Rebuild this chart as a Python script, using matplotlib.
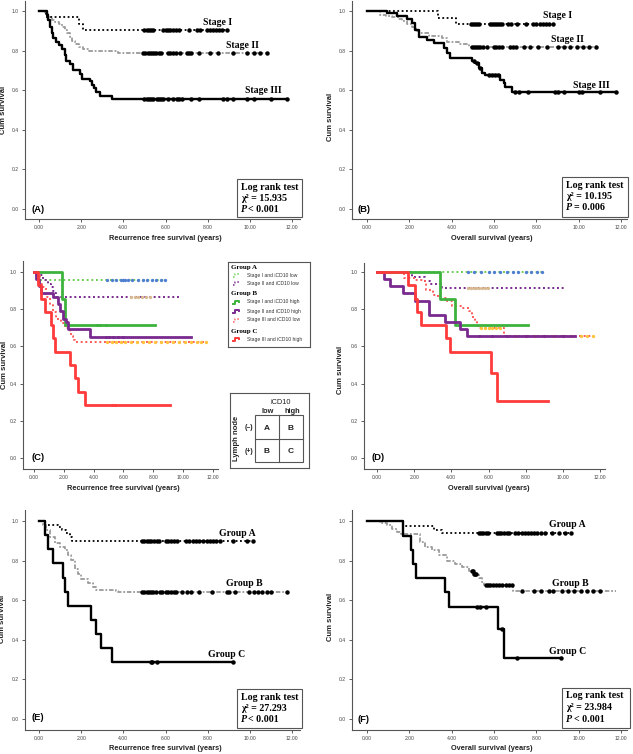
import numpy as np
import matplotlib.pyplot as plt
from matplotlib.patches import Rectangle

# ---- panel A: recurrence free survival by stage ----
a1_t = [0.35, 1.9, 2.1]
a1_s = [0.97, 0.935, 0.904]
a1_end = 8.9
a1_c = [5.0, 5.1, 5.2, 5.3, 5.4, 5.9, 6.0, 6.1, 6.2, 6.35, 6.5, 6.65, 7.1, 7.5, 7.65,
        7.95, 8.1, 8.25, 8.4, 8.55, 8.7, 8.9]
a2_t = [0.3, 0.45, 0.6, 0.75, 0.95, 1.1, 1.25, 1.35, 1.45, 1.55, 1.7, 1.9, 2.1, 2.35, 3.75]
a2_s = [0.985, 0.97, 0.955, 0.945, 0.935, 0.92, 0.905, 0.89, 0.87, 0.85, 0.835, 0.82, 0.81, 0.80, 0.79]
a2_end = 10.8
a2_c = [4.95, 5.05, 5.15, 5.25, 5.35, 5.45, 5.55, 5.7, 5.8, 6.1, 6.2, 6.35, 6.5, 6.7,
        7.0, 7.1, 7.2, 7.6, 8.1, 8.5, 9.2, 9.85, 10.2, 10.5, 10.8]
a3_t = [0.38, 0.45, 0.52, 0.6, 0.68, 0.8, 0.95, 1.1, 1.22, 1.3, 1.45, 1.6, 1.95, 2.05,
        2.4, 2.5, 2.6, 2.72, 2.9, 3.45]
a3_s = [0.98, 0.955, 0.92, 0.888, 0.862, 0.845, 0.83, 0.807, 0.78, 0.745, 0.73, 0.70,
        0.68, 0.657, 0.644, 0.627, 0.61, 0.59, 0.573, 0.555]
a3_end = 11.75
a3_c = [5.0, 5.1, 5.2, 5.3, 5.4, 5.6, 5.7, 5.8, 5.9, 6.1, 6.35, 6.55, 6.65, 6.8, 7.2,
        7.6, 8.75, 8.9, 9.2, 9.85, 10.2, 11.0, 11.75]

# ---- panel B: overall survival by stage ----
b1_t = [3.35, 4.2]
b1_s = [0.967, 0.934]
b1_end = 8.8
b1_c = [4.9, 5.0, 5.1, 5.2, 5.3, 5.8, 5.9, 6.0, 6.1, 6.2, 6.3, 6.4, 6.65, 6.8, 7.1,
        7.5, 7.85, 8.0, 8.15, 8.3, 8.45, 8.6, 8.8]
b2_t = [0.63, 0.9, 1.18, 1.45, 1.65, 1.9, 2.12, 2.3, 2.44, 2.91, 3.54, 3.77, 4.33, 4.8]
b2_s = [0.98, 0.975, 0.968, 0.958, 0.95, 0.935, 0.92, 0.9, 0.887, 0.874, 0.862, 0.845, 0.835, 0.82]
b2_end = 10.8
b2_c = [4.95, 5.05, 5.15, 5.25, 5.35, 5.5, 5.65, 6.0, 6.1, 6.25, 6.4, 6.75, 6.9, 7.05,
        7.4, 7.7, 8.1, 8.5, 9.0, 9.3, 9.6, 9.9, 10.2, 10.5, 10.8]
b3_t = [0.94, 1.42, 1.89, 2.12, 2.28, 2.44, 2.83, 3.15, 3.62, 3.77, 3.93, 4.95, 5.11,
        5.27, 5.43, 5.58, 6.29, 6.45, 6.53, 6.87]
b3_s = [0.988, 0.975, 0.96, 0.938, 0.904, 0.871, 0.854, 0.837, 0.812, 0.787, 0.761,
        0.748, 0.736, 0.711, 0.689, 0.677, 0.652, 0.635, 0.618, 0.59]
b3_end = 11.75
b3_c = [5.05, 5.2, 5.35, 5.75, 5.9, 6.05, 6.2, 7.0, 7.2, 7.6, 8.9, 9.0, 9.3, 10.0,
        10.15, 11.0, 11.75]

# ---- panel C: recurrence free survival by subgroup ----
c1_t = [0.38]                      # stage I, iCD10 low
c1_s = [0.959]
c1_end = 8.76
c1_c = [4.9, 5.2, 5.5, 5.8, 6.0, 6.1, 6.3, 6.6, 7.0, 7.3, 7.6, 7.9, 8.2, 8.5, 8.76]
c2_t = [0.27, 0.6, 0.94, 1.16, 1.27, 1.39, 1.5]   # stage II, iCD10 low
c2_s = [0.982, 0.959, 0.9375, 0.92, 0.90, 0.887, 0.866]
c2_end = 9.88
c2_c = [6.5, 6.75, 7.0, 7.25, 7.5, 7.75]
c3_t = [1.88, 2.1]                 # stage I, iCD10 high
c3_s = [0.857, 0.714]
c3_end = 8.09
c3_c = [4.2, 4.45, 4.85]
c4_t = [0.16, 0.35, 0.49, 1.27, 1.61, 1.72, 1.94, 2.17, 2.28, 3.73]   # stage II, iCD10 high
c4_s = [0.962, 0.923, 0.885, 0.865, 0.827, 0.788, 0.75, 0.731, 0.693, 0.653]
c4_end = 10.55
c4_c = [4.85, 5.05, 5.3, 5.6, 6.0]
c5_t = [0.16, 0.38, 0.6, 0.83, 1.05, 1.27, 1.5, 1.83, 2.06, 2.39, 2.5, 2.61, 2.73]  # stage III, low
c5_s = [0.982, 0.9375, 0.92, 0.866, 0.82, 0.786, 0.75, 0.727, 0.70, 0.68, 0.655, 0.637, 0.621]
c5_end = 11.5
c5_c = [4.9, 5.2, 5.5, 5.8, 6.1, 6.5, 6.9, 7.3, 7.7, 8.1, 8.5, 8.9, 9.3, 9.7, 10.1,
        10.5, 10.9, 11.2, 11.5]
c6_t = [0.27, 0.49, 0.72, 1.16, 1.27, 1.39, 2.44, 2.73, 2.95, 3.4]  # stage III, high
c6_s = [0.929, 0.857, 0.786, 0.714, 0.643, 0.571, 0.5, 0.429, 0.357, 0.286]
c6_end = 9.1
c6_c = [5.2, 5.4]

# ---- panel D: overall survival by subgroup ----
d1_t = []
d1_s = []
d1_end = 8.87
d1_c = [4.9, 5.2, 5.6, 6.0, 6.3, 6.6, 7.0, 7.3, 7.6, 8.0, 8.3, 8.6, 8.87]
d2_t = [1.88, 2.6, 2.87, 3.49]
d2_s = [0.973, 0.95, 0.935, 0.914]
d2_end = 10.1
d2_c = [4.9, 5.05, 5.2, 5.35, 5.5, 5.65, 5.8, 5.95]
d3_t = [3.4, 4.2]
d3_s = [0.857, 0.714]
d3_end = 8.15
d3_c = []
d4_t = [0.36, 0.72, 1.38, 2.02, 2.78, 3.64, 4.48, 4.84]
d4_s = [0.962, 0.923, 0.885, 0.846, 0.769, 0.731, 0.692, 0.654]
d4_end = 10.66
d4_c = [5.5, 6.2, 7.0, 8.0, 9.0, 10.0]
d5_t = [1.43, 2.06, 2.6, 2.65, 3.04, 3.3, 3.76, 4.03, 4.57, 4.93, 5.1, 5.25, 5.37, 5.46, 6.86]
d5_s = [0.968, 0.955, 0.94, 0.905, 0.878, 0.86, 0.842, 0.815, 0.806, 0.79, 0.76, 0.735,
        0.717, 0.70, 0.658]
d5_end = 11.64
d5_c = [5.6, 5.8, 6.0, 6.2, 6.4, 6.6, 7.5, 8.0, 8.5, 9.0, 9.5, 10.0, 10.5, 11.0, 11.3, 11.64]
d6_t = [1.67, 2.06, 2.15, 2.36, 3.71, 3.94, 6.14, 6.45]
d6_s = [0.929, 0.857, 0.786, 0.714, 0.643, 0.571, 0.457, 0.305]
d6_end = 9.22
d6_c = []

# ---- panel E: recurrence free survival by group ----
e1_t = [0.3, 0.9, 1.1, 1.3, 1.45, 1.55]
e1_s = [0.98, 0.97, 0.955, 0.94, 0.918, 0.897]
e1_end = 10.16
e1_c = [4.9, 5.0, 5.1, 5.2, 5.3, 5.45, 5.6, 5.7, 6.0, 6.1, 6.25, 6.4, 6.55, 6.95, 7.1,
        7.3, 7.45, 7.6, 7.8, 7.95, 8.1, 8.25, 8.4, 8.6, 9.2, 9.85, 10.16]
e2_t = [0.19, 0.35, 0.51, 0.74, 0.98, 1.22, 1.38, 1.54, 1.69, 1.85, 2.01, 2.33, 2.56, 2.72, 3.67, 3.75]
e2_s = [0.98, 0.955, 0.92, 0.89, 0.87, 0.854, 0.83, 0.803, 0.76, 0.73, 0.707, 0.686,
        0.666, 0.652, 0.644, 0.639]
e2_end = 11.75
e2_c = [4.9, 5.0, 5.1, 5.2, 5.3, 5.4, 5.55, 5.75, 5.85, 6.0, 6.1, 6.25, 6.4, 6.5, 6.8,
        7.0, 7.2, 7.6, 8.2, 8.9, 9.0, 9.3, 9.95, 10.2, 10.4, 10.6, 10.8, 11.0, 11.75]
e3_t = [0.27, 0.43, 0.66, 1.14, 1.25, 1.38, 2.49, 2.72, 2.96, 3.44]
e3_s = [0.929, 0.857, 0.786, 0.714, 0.643, 0.571, 0.5, 0.429, 0.357, 0.286]
e3_end = 9.2
e3_c = [5.3, 5.35, 5.6, 9.2]

# ---- panel F: overall survival by group ----
f1_t = [1.7, 3.15, 3.54]
f1_s = [0.973, 0.956, 0.94]
f1_end = 9.65
f1_c = [5.3, 5.4, 5.5, 5.6, 5.7, 6.15, 6.25, 6.35, 6.45, 6.6, 6.7, 7.0, 7.15, 7.3, 7.45,
        7.6, 7.75, 7.9, 8.05, 8.2, 8.4, 8.75, 9.05, 9.35, 9.65]
f2_t = [0.63, 0.94, 1.2, 1.4, 1.6, 2.52, 2.75, 3.07, 3.38, 3.77, 4.17, 4.48, 4.8, 5.03,
        5.27, 5.43, 5.51, 6.92]
f2_s = [0.99, 0.978, 0.96, 0.945, 0.936, 0.894, 0.869, 0.852, 0.827, 0.80, 0.785, 0.768,
        0.75, 0.734, 0.71, 0.692, 0.676, 0.647]
f2_end = 11.75
f2_c = [4.95, 5.0, 5.05, 5.1, 5.15, 5.6, 5.7, 5.8, 5.95, 6.1, 6.25, 6.4, 6.55, 6.7, 6.85,
        7.3, 7.9, 8.2, 8.6, 8.8, 9.2, 9.5, 9.8, 10.1, 10.4, 10.7, 11.0]
f3_t = [1.68, 2.09, 2.15, 2.31, 3.7, 3.88, 6.21, 6.45]
f3_s = [0.924, 0.852, 0.785, 0.714, 0.642, 0.566, 0.457, 0.306]
f3_end = 9.17
f3_c = [5.2, 5.35, 5.63, 6.4, 7.08, 9.17]

xticks = [0, 2, 4, 6, 8, 10, 12]
xtick_labels = ["0.00", "2.00", "4.00", "6.00", "8.00", "10.00", "12.00"]
yticks = [0.0, 0.2, 0.4, 0.6, 0.8, 1.0]

W, H = 633, 754
fig = plt.figure(figsize=(W / 100, H / 100), dpi=100)
SANS = "Liberation Sans"
SERIF = "Liberation Serif"


def fx(x):
    return x / W


def fy(y):
    return 1 - y / H


def make_ax(left, right, top, bottom, x0, x12, y1, y0):
    # pixel box of the spines plus pixel positions of x=0, x=12, y=1, y=0
    ax = fig.add_axes([fx(left), fy(bottom), (right - left) / W, (bottom - top) / H])
    ppx = (x12 - x0) / 12.0
    ppy = (y0 - y1)
    ax.set_xlim((left - x0) / ppx, (right - x0) / ppx)
    ax.set_ylim((y0 - bottom) / ppy, (y0 - top) / ppy)
    for sp in ["top", "right"]:
        ax.spines[sp].set_visible(False)
    for sp in ["left", "bottom"]:
        ax.spines[sp].set_color("#555555")
        ax.spines[sp].set_linewidth(0.8)
    ax.set_xticks(xticks)
    ax.set_xticklabels(xtick_labels)
    ax.set_yticks(yticks)
    ax.set_yticklabels(["%.1f" % v for v in yticks])
    ax.tick_params(labelsize=3.6, length=2.5, width=0.6, pad=2, colors="#444444")
    for lab in ax.get_xticklabels() + ax.get_yticklabels():
        lab.set_family(SANS)
    ax.patch.set_alpha(0)
    return ax


def km(ax, t, s, end, cens, color, ls, lw, ccolor="black", ms=3.2, z=2):
    t = np.asarray(t, float)
    s = np.asarray(s, float)
    x = np.r_[0.0, t, end]
    y = np.r_[1.0, s, s[-1] if len(s) else 1.0]
    ax.step(x, y, where="post", color=color, ls=ls, lw=lw, zorder=z)
    if len(cens):
        idx = np.searchsorted(t, cens, side="right")
        lev = np.r_[1.0, s][idx]
        ax.plot(cens, lev, ls="none", marker="o", ms=ms, color=ccolor, mew=0, zorder=z + 1)


def ylab(x, y):
    fig.text(fx(x), fy(y), "Cum survival", rotation=90, ha="center", va="center",
             fontsize=5.5, fontweight="bold", family=SANS, color="#222222")


def xlab(x, y, txt):
    fig.text(fx(x), fy(y), txt, ha="center", va="center", fontsize=5.3,
             fontweight="bold", family=SANS, color="#222222")


def panel_tag(x, y, txt):
    fig.text(fx(x), fy(y), txt, ha="left", va="center", fontsize=6.8,
             fontweight="bold", family=SANS)


def logrank(x0, x1, y0, y1, chi, ptxt):
    fig.add_artist(Rectangle((fx(x0), fy(y1)), (x1 - x0) / W, (y1 - y0) / H,
                             transform=fig.transFigure, fill=False, ec="#555555", lw=0.8))
    kw = dict(fontsize=7.2, fontweight="bold", family=SERIF, va="center", ha="left")
    fig.text(fx(x0 + 4), fy(y0 + 8), "Log rank test", **kw)
    fig.text(fx(x0 + 4), fy(y0 + 19.5), "\u03c7\u00b2 = " + chi, **kw)
    fig.text(fx(x0 + 4), fy(y0 + 31), "P", style="italic", **kw)
    fig.text(fx(x0 + 11.5), fy(y0 + 31), ptxt, **kw)


def tag(ax, x, y, txt):
    ax.text(x, y, txt, fontsize=7, fontweight="bold", family=SERIF, ha="left", va="center")


DOT = (0, (1, 1.4))
DASHDOT = (0, (2.5, 1, 1, 1))
GRAY = "#9a9a9a"

# ---------------- A ----------------
ax = make_ax(25, 300, 1, 219, 39, 292, 11, 209)
km(ax, a2_t, a2_s, a2_end, a2_c, GRAY, DASHDOT, 1.3)
km(ax, a1_t, a1_s, a1_end, a1_c, "black", DOT, 1.3)
km(ax, a3_t, a3_s, a3_end, a3_c, "black", "-", 1.7)
tag(ax, 7.8, 0.94, "Stage I")
tag(ax, 8.85, 0.825, "Stage II")
tag(ax, 9.75, 0.597, "Stage III")
ylab(4, 110)
xlab(165, 239, "Recurrence free survival (years)")
panel_tag(32, 209, "(A)")
logrank(237, 302, 179, 217, "15.935", "< 0.001")

# ---------------- B ----------------
ax = make_ax(352, 627, 1, 219, 367, 621, 11, 209)
km(ax, b2_t, b2_s, b2_end, b2_c, GRAY, DASHDOT, 1.3)
km(ax, b1_t, b1_s, b1_end, b1_c, "black", DOT, 1.3)
km(ax, b3_t, b3_s, b3_end, b3_c, "black", "-", 1.7)
tag(ax, 8.3, 0.975, "Stage I")
tag(ax, 8.7, 0.854, "Stage II")
tag(ax, 9.75, 0.624, "Stage III")
ylab(330, 117)
xlab(492, 239, "Overall survival (years)")
panel_tag(358, 209, "(B)")
logrank(562, 628, 177, 217, "10.195", "= 0.006")

# colours for subgroup panels
GREEN = "#3db23d"
LGREEN = "#6fd05a"
PURPLE = "#7a2a8e"
RED = "#ff3b3b"
LRED = "#ff5a5a"
BLUE = "#4f7fd0"
TAN = "#d8b890"
ORANGE = "#ffc23a"


def subgroups(ax, s1, s2, s3, s4, s5, s6):
    km(ax, *s1, LGREEN, DOT, 1.4, BLUE, 2.4, 2)
    km(ax, *s2, PURPLE, DOT, 1.4, TAN, 2.4, 2)
    km(ax, *s5, LRED, DOT, 1.4, ORANGE, 2.4, 3)
    km(ax, *s3, GREEN, "-", 2.0, GREEN, 2.2, 4)
    km(ax, *s4, PURPLE, "-", 2.0, PURPLE, 2.2, 4)
    km(ax, *s6, RED, "-", 2.0, RED, 2.2, 5)


# ---------------- C ----------------
ax = make_ax(23, 218, 261, 469, 34, 213, 272, 458)
subgroups(ax, (c1_t, c1_s, c1_end, c1_c), (c2_t, c2_s, c2_end, c2_c),
          (c3_t, c3_s, c3_end, c3_c), (c4_t, c4_s, c4_end, c4_c),
          (c5_t, c5_s, c5_end, c5_c), (c6_t, c6_s, c6_end, c6_c))
ylab(5, 365)
xlab(123, 489, "Recurrence free survival (years)")
panel_tag(31, 457, "(C)")

# legend box for C, drawn in pixel units
lg = fig.add_axes([fx(228), fy(347), 82 / W, 85 / H])
lg.set_xlim(228, 310)
lg.set_ylim(347, 262)
lg.set_xticks([])
lg.set_yticks([])
for sp in lg.spines.values():
    sp.set_color("#555555")
    sp.set_linewidth(0.8)
legend_rows = [
    ("Group A", None, None, 267),
    ("Stage I and iCD10 low", LGREEN, DOT, 275),
    ("Stage II and iCD10 low", PURPLE, DOT, 283),
    ("Group B", None, None, 293),
    ("Stage I and iCD10 high", GREEN, "-", 302),
    ("Stage II and iCD10 high", PURPLE, "-", 311),
    ("Stage III and iCD10 low", LRED, DOT, 320),
    ("Group C", None, None, 331),
    ("Stage III and iCD10 high", RED, "-", 339),
]
for txt, col, ls, yy in legend_rows:
    if col is None:
        lg.text(231, yy, txt, fontsize=5, fontweight="bold", family=SERIF, va="center")
    else:
        lg.plot([233, 235, 235, 239, 239], [yy + 1.5, yy + 1.5, yy - 1.5, yy - 1.5, yy],
                color=col, ls=ls, lw=1.4 if ls == "-" else 1.1)
        lg.text(247, yy, txt, fontsize=3.6, family=SANS, va="center", color="#333333")

# 2x2 grouping table
tb = fig.add_axes([fx(230), fy(468), 79 / W, 75 / H])
tb.set_xlim(230, 309)
tb.set_ylim(468, 393)
tb.set_xticks([])
tb.set_yticks([])
for sp in tb.spines.values():
    sp.set_color("#555555")
    sp.set_linewidth(0.8)
tb.add_patch(Rectangle((255, 415), 48, 47, fill=False, ec="#555555", lw=0.8))
tb.plot([279, 279], [415, 462], color="#555555", lw=0.8)
tb.plot([255, 303], [439, 439], color="#555555", lw=0.8)
tkw = dict(family=SANS, ha="center", va="center", color="#222222")
tb.text(281, 402, "iCD10", fontsize=5.3, **tkw)
tb.text(268, 411, "low", fontsize=5.3, fontweight="bold", **tkw)
tb.text(292, 411, "high", fontsize=5.3, fontweight="bold", **tkw)
tb.text(267, 428, "A", fontsize=6, fontweight="bold", **tkw)
tb.text(291, 428, "B", fontsize=6, fontweight="bold", **tkw)
tb.text(267, 451, "B", fontsize=6, fontweight="bold", **tkw)
tb.text(291, 451, "C", fontsize=6, fontweight="bold", **tkw)
tb.text(249, 427, "(\u2013)", fontsize=5, fontweight="bold", **tkw)
tb.text(249, 451, "(+)", fontsize=5, fontweight="bold", **tkw)
tb.text(237, 438, "Lymph node", fontsize=5.5, fontweight="bold", rotation=90, **tkw)

# ---------------- D ----------------
ax = make_ax(364, 605, 263, 469, 377, 600, 272, 458)
subgroups(ax, (d1_t, d1_s, d1_end, d1_c), (d2_t, d2_s, d2_end, d2_c),
          (d3_t, d3_s, d3_end, d3_c), (d4_t, d4_s, d4_end, d4_c),
          (d5_t, d5_s, d5_end, d5_c), (d6_t, d6_s, d6_end, d6_c))
ylab(340, 370)
xlab(489, 489, "Overall survival (years)")
panel_tag(371, 457, "(D)")

# ---------------- E ----------------
ax = make_ax(25, 300, 510, 730, 39, 292, 521, 719)
km(ax, e2_t, e2_s, e2_end, e2_c, GRAY, DASHDOT, 1.3)
km(ax, e1_t, e1_s, e1_end, e1_c, "black", DOT, 1.3)
km(ax, e3_t, e3_s, e3_end, e3_c, "black", "-", 1.7)
tag(ax, 8.55, 0.938, "Group A")
tag(ax, 8.85, 0.682, "Group B")
tag(ax, 8.0, 0.328, "Group C")
ylab(3, 619)
xlab(165, 748, "Recurrence free survival (years)")
panel_tag(32, 718, "(E)")
logrank(237, 302, 689, 728, "27.293", "< 0.001")

# ---------------- F ----------------
ax = make_ax(352, 627, 510, 730, 367, 621, 521, 719)
km(ax, f2_t, f2_s, f2_end, f2_c, GRAY, DASHDOT, 1.3)
km(ax, f1_t, f1_s, f1_end, f1_c, "black", DOT, 1.3)
km(ax, f3_t, f3_s, f3_end, f3_c, "black", "-", 1.7)
tag(ax, 8.6, 0.983, "Group A")
tag(ax, 8.75, 0.684, "Group B")
tag(ax, 8.6, 0.343, "Group C")
ylab(330, 617)
xlab(492, 748, "Overall survival (years)")
panel_tag(358, 719, "(F)")
logrank(562, 630, 688, 728, "23.984", "< 0.001")

fig.savefig("out.png", dpi=100)
